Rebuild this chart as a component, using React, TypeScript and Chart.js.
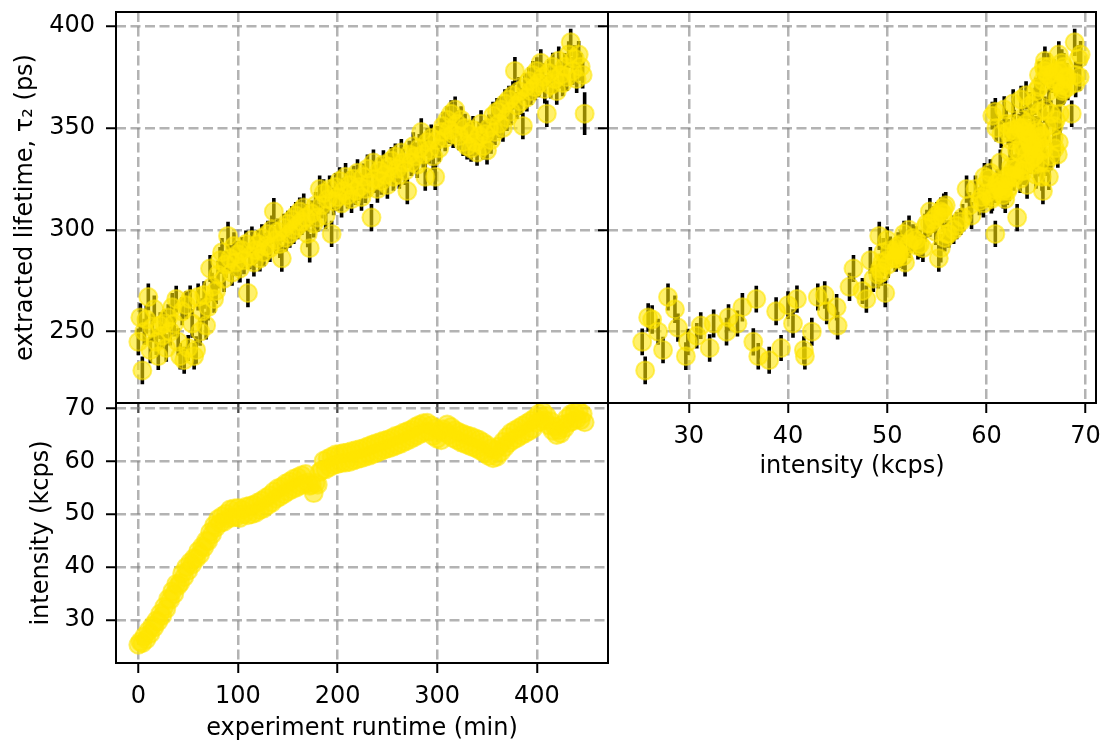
import React, { useEffect, useRef } from "react";
import { Chart, registerables } from "chart.js";

Chart.register(...registerables);

// Start time of each fit window (min)
const RUNTIME_MIN = [
  0, 2, 4, 6, 8, 10, 12, 14, 16, 18, 20, 22, 24, 26, 28,
  30, 32, 34, 36, 38, 40, 42, 44, 46, 48, 50, 52, 54, 56, 58,
  60, 62, 64, 66, 68, 70, 72, 74, 76, 78, 80, 82, 84, 86, 88,
  90, 92, 94, 96, 98, 100, 102, 104, 106, 108, 110, 112, 114, 116, 118,
  120, 122, 124, 126, 128, 130, 132, 134, 136, 138, 140, 142, 144, 146, 148,
  150, 152, 154, 156, 158, 160, 162, 164, 166, 168, 170, 172, 174, 176, 178,
  180, 182, 184, 186, 188, 190, 192, 194, 196, 198, 200, 202, 204, 206, 208,
  210, 212, 214, 216, 218, 220, 222, 224, 226, 228, 230, 232, 234, 236, 238,
  240, 242, 244, 246, 248, 250, 252, 254, 256, 258, 260, 262, 264, 266, 268,
  270, 272, 274, 276, 278, 280, 282, 284, 286, 288, 290, 292, 294, 296, 298,
  300, 302, 304, 306, 308, 310, 312, 314, 316, 318, 320, 322, 324, 326, 328,
  330, 332, 334, 336, 338, 340, 342, 344, 346, 348, 350, 352, 354, 356, 358,
  360, 362, 364, 366, 368, 370, 372, 374, 376, 378, 380, 382, 384, 386, 388,
  390, 392, 394, 396, 398, 400, 402, 404, 406, 408, 410, 412, 414, 416, 418,
  420, 422, 424, 426, 428, 430, 432, 434, 436, 438, 440, 442, 444, 446, 448,
];

// Mean count rate in each window (kcps)
const INTENSITY_KCPS = [
  25.3, 25.9, 25.6, 26.9, 26.3, 27.9, 27.4, 28.9, 28.6, 29.9, 29.7, 31.2, 30.8, 32.5, 32.1,
  34.0, 33.8, 35.4, 34.9, 36.8, 36.5, 37.0, 38.8, 38.1, 40.0, 39.3, 40.9, 40.5, 41.7, 41.6,
  43.0, 42.4, 43.9, 43.7, 45.0, 44.9, 46.6, 46.2, 47.9, 47.5, 49.1, 48.3, 49.6, 48.6, 50.1,
  49.2, 50.9, 49.4, 51.1, 49.5, 51.2, 49.3, 50.9, 50.0, 51.4, 49.8, 51.6, 50.0, 51.8, 50.3,
  52.2, 50.8, 52.6, 51.1, 53.1, 51.7, 53.6, 52.2, 54.3, 52.9, 54.9, 53.3, 55.2, 53.8, 55.8,
  54.3, 56.2, 54.7, 56.7, 55.0, 57.0, 55.4, 57.4, 55.7, 57.6, 56.0, 55.4, 55.6, 54.0, 55.9,
  55.6, 58.0, 58.3, 60.1, 58.5, 60.5, 58.9, 60.9, 59.3, 61.3, 59.5, 61.4, 59.7, 61.6, 59.8,
  61.7, 59.9, 61.9, 60.2, 62.1, 60.4, 62.3, 60.6, 62.5, 60.9, 62.8, 61.1, 63.1, 61.4, 63.4,
  61.7, 63.6, 62.0, 63.9, 62.3, 64.1, 62.5, 64.4, 62.8, 64.8, 63.1, 65.0, 63.4, 65.4, 63.8,
  65.7, 64.1, 66.0, 64.5, 66.5, 64.9, 66.9, 65.3, 67.2, 65.6, 67.3, 65.6, 66.8, 64.8, 66.3,
  64.3, 65.8, 64.0, 66.1, 65.5, 67.0, 65.0, 66.5, 64.4, 65.9, 64.0, 65.5, 63.6, 65.2, 63.3,
  64.9, 63.0, 64.7, 62.7, 64.4, 62.4, 64.1, 62.0, 63.6, 61.5, 63.1, 61.0, 62.5, 60.6, 62.2,
  60.9, 62.8, 61.8, 63.7, 62.7, 64.6, 63.5, 65.4, 64.0, 65.9, 64.4, 66.3, 64.9, 66.8, 65.3,
  67.2, 65.7, 67.7, 66.2, 68.2, 67.3, 69.0, 67.6, 69.4, 67.8, 68.6, 66.8, 67.6, 65.8, 66.6,
  65.0, 65.9, 65.3, 67.0, 66.3, 68.1, 67.3, 68.9, 67.6, 69.3, 68.0, 69.5, 67.8, 69.0, 67.4,
];

// Second lifetime component from the bi-exponential fit (ps)
const LIFETIME_PS = [
  245, 257, 231, 250, 256, 267, 241, 252, 261, 245, 238, 253, 248, 254, 242,
  257, 250, 262, 254, 266, 245, 238, 260, 236, 263, 242, 266, 254, 238, 241,
  267, 250, 260, 268, 253, 262, 281, 272, 266, 270, 278, 285, 289, 276, 283,
  297, 286, 279, 292, 284, 288, 281, 290, 285, 293, 269, 287, 295, 284, 290,
  293, 286, 296, 289, 292, 298, 291, 300, 309, 295, 299, 293, 286, 301, 296,
  303, 298, 305, 300, 307, 302, 309, 304, 311, 306, 298, 291, 308, 303, 312,
  306, 320, 312, 318, 307, 315, 320, 298, 314, 321, 316, 324, 313, 319, 326,
  317, 322, 315, 325, 319, 328, 321, 316, 326, 320, 330, 323, 306, 333, 325,
  320, 329, 324, 332, 327, 322, 331, 334, 326, 336, 330, 327, 338, 333, 329,
  319, 337, 333, 341, 336, 332, 340, 348, 337, 326, 343, 339, 345, 336, 326,
  344, 340, 348, 351, 345, 354, 349, 357, 347, 359, 352, 346, 354, 343, 350,
  341, 347, 340, 349, 343, 338, 346, 352, 341, 347, 339, 350, 344, 356, 348,
  358, 352, 359, 350, 362, 355, 364, 358, 366, 378, 361, 368, 363, 351, 370,
  365, 373, 368, 376, 370, 378, 372, 382, 375, 369, 357, 377, 371, 380, 374,
  368, 383, 376, 372, 380, 375, 386, 392, 378, 384, 374, 386, 380, 376, 357,
];

// One-sigma uncertainty of the fitted lifetime (ps)
const LIFETIME_ERR_PS = [
  6.6, 7.0, 6.8, 6.4, 7.0, 6.6, 6.5, 6.9, 6.7, 6.4, 6.8, 6.6, 6.3, 6.9, 6.7,
  6.5, 6.8, 7.0, 6.4, 6.6, 6.7, 6.5, 6.9, 6.6, 6.8, 6.4, 6.7, 7.0, 6.5, 6.8,
  6.6, 6.9, 6.4, 6.7, 6.8, 6.5, 6.6, 6.9, 6.7, 6.4, 6.8, 6.6, 7.0, 6.5, 6.7,
  6.9, 6.6, 6.4, 6.8, 6.7, 6.6, 6.9, 6.5, 6.8, 6.7, 7.0, 6.4, 6.6, 6.9, 6.7,
  6.8, 6.5, 6.7, 6.9, 6.6, 6.4, 6.8, 7.0, 6.6, 6.7, 6.5, 6.8, 6.6, 6.9, 6.7,
  6.4, 6.8, 6.6, 7.0, 6.7, 6.6, 6.9, 6.5, 6.8, 6.7, 6.6, 7.0, 6.4, 6.8, 6.6,
  6.9, 6.7, 6.5, 6.8, 6.6, 7.0, 6.7, 6.4, 6.8, 6.9, 6.6, 6.7, 7.0, 6.5, 6.8,
  6.6, 6.9, 6.7, 6.4, 6.8, 6.6, 6.9, 6.7, 6.5, 6.8, 7.0, 6.6, 6.7, 6.4, 6.9,
  6.7, 6.6, 6.8, 7.0, 6.5, 6.7, 6.9, 6.6, 6.8, 6.4, 6.7, 6.9, 6.6, 6.8, 7.0,
  6.5, 6.7, 6.6, 6.9, 6.8, 6.6, 7.0, 6.7, 6.5, 6.8, 6.9, 6.6, 6.7, 6.8, 6.4,
  6.9, 6.6, 6.8, 7.0, 6.5, 6.7, 6.9, 6.6, 6.8, 6.4, 6.7, 6.9, 6.6, 6.8, 7.0,
  6.5, 6.7, 6.6, 6.9, 6.8, 6.6, 7.0, 6.7, 6.5, 6.8, 6.9, 6.6, 6.7, 6.8, 6.4,
  6.7, 6.9, 6.6, 6.8, 7.0, 6.5, 6.7, 6.6, 6.9, 6.8, 6.6, 7.0, 6.7, 6.5, 6.8,
  6.9, 6.6, 6.7, 6.8, 6.4, 6.7, 6.9, 6.6, 6.8, 7.0, 6.5, 6.7, 6.6, 6.9, 6.8,
  6.6, 7.0, 6.7, 6.5, 6.8, 6.9, 6.6, 6.7, 6.8, 6.6, 6.9, 6.7, 6.8, 6.6, 10.5,
];

// Tick positions and axis limits
const RUNTIME_TICKS = [0, 100, 200, 300, 400];
const INTENSITY_TICKS = [30, 40, 50, 60, 70];
const LIFETIME_TICKS = [250, 300, 350, 400];
const RUNTIME_RANGE = [-22.45, 471.45];
const INTENSITY_RANGE = [21.85, 71.05];
const LIFETIME_RANGE = [215.0, 406.9];

const FONT = { family: "'DejaVu Sans', sans-serif", size: 24 };
const GRID_COLOR = "rgba(128,128,128,0.6)";
const MARKER_COLOR = "rgba(255,229,0,0.58)";
const W = 1107;
const H = 743;

type Pt = { x: number; y: number | null };

function markerDataset(data: Pt[]) {
  return {
    type: "scatter",
    data,
    order: 0,
    pointRadius: 9,
    pointHoverRadius: 9,
    pointBorderWidth: 2,
    pointBackgroundColor: MARKER_COLOR,
    pointBorderColor: MARKER_COLOR,
  };
}

function errorBarDataset(data: Pt[]) {
  return {
    type: "line",
    data,
    order: 1,
    borderColor: "#000",
    borderWidth: 3.6,
    borderCapStyle: "butt",
    pointRadius: 0,
    pointHoverRadius: 0,
    spanGaps: false,
    fill: false,
    tension: 0,
  };
}

// vertical ±σ segments, separated by gaps
function errorSegments(xs: number[]): Pt[] {
  const out: Pt[] = [];
  xs.forEach((x, i) => {
    out.push({ x, y: LIFETIME_PS[i] - LIFETIME_ERR_PS[i] });
    out.push({ x, y: LIFETIME_PS[i] + LIFETIME_ERR_PS[i] });
    out.push({ x, y: null });
  });
  return out;
}

function axis(
  position: "left" | "bottom",
  range: number[],
  tickValues: number[],
  thickness: number,
  showLabels: boolean,
  title?: string,
  titlePad = 0
) {
  return {
    type: "linear",
    position,
    min: range[0],
    max: range[1],
    afterBuildTicks: (s: any) => {
      s.ticks = tickValues.map((v) => ({ value: v }));
    },
    afterFit: (s: any) => {
      if (position === "left") s.width = thickness;
      else s.height = thickness;
      s.paddingTop = 0;
      s.paddingBottom = 0;
      s.paddingLeft = 0;
      s.paddingRight = 0;
    },
    grid: {
      color: GRID_COLOR,
      lineWidth: 2.5,
      drawTicks: true,
      tickLength: 10,
      tickWidth: 2,
      tickColor: "#000",
      tickBorderDash: [],
    },
    border: { display: false, dash: [10, 4.5] },
    ticks: {
      display: showLabels,
      font: FONT,
      color: "#000",
      padding: position === "left" ? 11 : 9,
      maxRotation: 0,
      autoSkip: false,
      callback: (v: any) => String(v),
    },
    title: title
      ? {
          display: true,
          text: title,
          font: FONT,
          color: "#000",
          padding: { top: titlePad, bottom: titlePad },
        }
      : { display: false },
  };
}

const framePlugin = {
  id: "frame",
  afterDatasetsDraw(chart: any) {
    const { ctx, chartArea: a } = chart;
    ctx.save();
    ctx.strokeStyle = "#000";
    ctx.lineWidth = 2;
    ctx.strokeRect(a.left, a.top, a.right - a.left, a.bottom - a.top);
    ctx.restore();
  },
};

function baseConfig(datasets: any[], scales: any, padding: any) {
  return {
    type: "scatter",
    data: { datasets },
    plugins: [framePlugin],
    options: {
      responsive: false,
      animation: false,
      devicePixelRatio: 1,
      events: [],
      layout: { padding },
      plugins: { legend: { display: false }, tooltip: { enabled: false } },
      scales,
    },
  };
}

// lifetime vs experiment runtime
function lifetimeVsRuntime() {
  const pts = RUNTIME_MIN.map((t, i) => ({ x: t, y: LIFETIME_PS[i] }));
  return baseConfig(
    [markerDataset(pts), errorBarDataset(errorSegments(RUNTIME_MIN))],
    {
      x: axis("bottom", RUNTIME_RANGE, RUNTIME_TICKS, 10, false),
      y: axis("left", LIFETIME_RANGE, LIFETIME_TICKS, 116, true, "extracted lifetime, τ₂ (ps)", 11.6),
    },
    { left: 0, top: 12, right: W - 608, bottom: H - 403 - 10 }
  );
}

// lifetime vs intensity
function lifetimeVsIntensity() {
  const pts = INTENSITY_KCPS.map((v, i) => ({ x: v, y: LIFETIME_PS[i] }));
  return baseConfig(
    [markerDataset(pts), errorBarDataset(errorSegments(INTENSITY_KCPS))],
    {
      x: axis("bottom", INTENSITY_RANGE, INTENSITY_TICKS, 78, true, "intensity (kcps)", 0),
      y: axis("left", LIFETIME_RANGE, LIFETIME_TICKS, 10, false),
    },
    { left: 608 - 10, top: 12, right: W - 1100, bottom: H - 403 - 78 }
  );
}

// intensity vs experiment runtime
function intensityVsRuntime() {
  const pts = RUNTIME_MIN.map((t, i) => ({ x: t, y: INTENSITY_KCPS[i] }));
  return baseConfig(
    [markerDataset(pts)],
    {
      x: axis("bottom", RUNTIME_RANGE, RUNTIME_TICKS, 80, true, "experiment runtime (min)", 0),
      y: axis("left", INTENSITY_RANGE, INTENSITY_TICKS, 116, true, "intensity (kcps)", 26.9),
    },
    { left: 0, top: 403, right: W - 608, bottom: H - 663 - 80 }
  );
}

function ChartLayer({ build }: { build: () => any }) {
  const ref = useRef<HTMLCanvasElement>(null);
  useEffect(() => {
    if (!ref.current) return;
    const chart = new Chart(ref.current, build());
    return () => chart.destroy();
  }, [build]);
  return (
    <canvas
      ref={ref}
      width={W}
      height={H}
      style={{ position: "absolute", left: 0, top: 0, width: W, height: H }}
    />
  );
}

export default function App() {
  return (
    <div
      style={{
        position: "fixed",
        left: 0,
        top: 0,
        width: W,
        height: H,
        background: "#fff",
        overflow: "hidden",
      }}
    >
      <ChartLayer build={lifetimeVsRuntime} />
      <ChartLayer build={lifetimeVsIntensity} />
      <ChartLayer build={intensityVsRuntime} />
    </div>
  );
}
